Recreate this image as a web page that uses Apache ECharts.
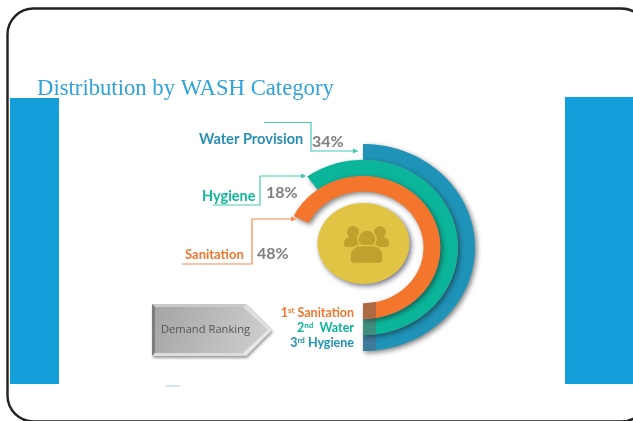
<!DOCTYPE html>
<html><head><meta charset="utf-8">
<style>html,body{margin:0;padding:0;background:#fff}#c{width:633px;height:421px}</style>
<script src="https://cdn.jsdelivr.net/npm/echarts@6/dist/echarts.min.js"></script>
</head><body><div id="c"></div>
<script>
// Data
const categories = ['Water Provision', 'Hygiene', 'Sanitation'];
const shares = [34, 18, 48];
const arcSweepDegrees = [180, 216, 244];
const rankOrdinals = ['1', '2', '3'];
const rankSuffixes = ['st', 'nd', 'rd'];
const rankNames = ['Sanitation', ' Water', 'Hygiene'];

const ringColors = ['#1f93b8', '#0bb59a', '#f3762c'];
const ringDark = ['#3f7a9b', '#3f8f80', '#ad6a42'];
const labelColors = ['#2a8fb5', '#12b89c', '#f3762c'];
const rankColors = ['#f3762c', '#0bb59a', '#1f93b8'];
const lineColors = ['#45c9b4', '#45c9b4', '#f58a4b'];
const ringEdges = [1, 0.847, 0.69, 0.54];

const chart = echarts.init(document.getElementById('c'), null, {renderer: 'canvas'});

// Arcs start at the bottom of the ring and run counter-clockwise over the right side.
function arcPoints(api, sweep, inner, outer) {
  const pts = [];
  const n = 90;
  for (let i = 0; i <= n; i++) {
    const a = (sweep * i / n) * Math.PI / 180;
    pts.push(api.coord([outer * Math.sin(a), -outer * Math.cos(a)]));
  }
  for (let i = n; i >= 0; i--) {
    const a = (sweep * i / n) * Math.PI / 180;
    pts.push(api.coord([inner * Math.sin(a), -inner * Math.cos(a)]));
  }
  return pts;
}
function tailPoints(api, inner, outer) {
  const dx = 0.116;
  const yAt = r => -Math.sqrt(r * r - dx * dx);
  return [api.coord([0, -outer]), api.coord([dx, yAt(outer)]), api.coord([dx, yAt(inner)]), api.coord([0, -inner])];
}

function text(x, y, str, size, color, weight, align, family) {
  return {type: 'text', x, y, z: 20, style: {
    text: str, fontSize: size, fill: color, fontWeight: weight || 'bold',
    fontFamily: family || 'Lato', align: align || 'left', verticalAlign: 'middle'}};
}
function connector(points, color) {
  const last = points[points.length - 1];
  return [
    {type: 'polyline', z: 15, shape: {points}, style: {stroke: color, lineWidth: 1.2, fill: null}},
    {type: 'polygon', z: 15, shape: {points: [[last[0] + 4.5, last[1]], [last[0] - 1, last[1] - 2.6], [last[0] - 1, last[1] + 2.6]]}, style: {fill: color}}
  ];
}
const labelPos = [[199, 139, 312, 142], [202, 196, 266, 193], [185, 255, 257, 254]];
const labelSize = [14.6, 14.5, 13];

const rankTexts = categories.map((_, i) => ({
  type: 'text', x: 354, y: 313 + i * 15, z: 20,
  style: {
    text: '{a|' + rankOrdinals[i] + '}{s|' + rankSuffixes[i] + '}{a| ' + rankNames[i] + '}',
    align: 'right', verticalAlign: 'middle',
    rich: {
      a: {fontFamily: 'Lato', fontWeight: 'bold', fontSize: 12.5, fill: rankColors[i], lineHeight: 15},
      s: {fontFamily: 'Lato', fontWeight: 'bold', fontSize: 8, fill: rankColors[i], padding: [0, 0, 5, 0]}
    }
  }
}));

const iconColor = '#bfa22e';
const yellow = '#e2c444';
const graphics = [
  // slide frame and side panels
  {type: 'rect', z: 1, shape: {x: 10, y: 98, width: 49, height: 286}, style: {fill: '#149fda'}},
  {type: 'rect', z: 1, shape: {x: 565, y: 97, width: 70, height: 287}, style: {fill: '#149fda'}},
  {type: 'rect', z: 2, shape: {x: 7.5, y: 8.5, width: 640, height: 413, r: 26}, style: {fill: null, stroke: '#222', lineWidth: 2.4}},
  {type: 'rect', z: 2, shape: {x: 166, y: 385.5, width: 14, height: 1}, style: {fill: '#a9c6de'}},
  // centre badge
  {type: 'ellipse', z: 10, shape: {cx: 363.5, cy: 243.5, rx: 46, ry: 40.5},
    style: {fill: yellow, shadowBlur: 5, shadowOffsetX: 2, shadowOffsetY: 2, shadowColor: 'rgba(40,40,70,.65)'}},
  {type: 'circle', z: 11, shape: {cx: 353, cy: 232, r: 6}, style: {fill: iconColor}},
  {type: 'circle', z: 11, shape: {cx: 380, cy: 232, r: 6}, style: {fill: iconColor}},
  {type: 'rect', z: 11, shape: {x: 344, y: 237, width: 17, height: 10, r: [6, 6, 3, 3]}, style: {fill: iconColor}},
  {type: 'rect', z: 11, shape: {x: 372, y: 237, width: 17, height: 10, r: [6, 6, 3, 3]}, style: {fill: iconColor}},
  {type: 'circle', z: 12, shape: {cx: 367, cy: 239, r: 9}, style: {fill: iconColor, stroke: yellow, lineWidth: 1.5}},
  {type: 'rect', z: 12, shape: {x: 350, y: 245.5, width: 33, height: 18, r: [10, 10, 4, 4]}, style: {fill: iconColor, stroke: yellow, lineWidth: 1.5}},
  // ranking arrow
  {type: 'polygon', z: 10, shape: {points: [[152, 304], [246, 304], [272, 330], [246, 356], [152, 356]]},
    style: {fill: new echarts.graphic.LinearGradient(0, 0, 1, 1, [{offset: 0, color: '#a3a3a3'}, {offset: 1, color: '#d2d2d2'}]),
      shadowBlur: 3, shadowOffsetX: 1, shadowOffsetY: 2, shadowColor: 'rgba(0,0,0,.4)'}},
  {type: 'polygon', z: 11, shape: {points: [[152, 304], [246, 304], [243, 307], [155, 307]]}, style: {fill: '#c9c9c9'}},
  {type: 'polygon', z: 11, shape: {points: [[152, 304], [155, 307], [155, 353], [152, 356]]}, style: {fill: '#7d7d7d'}},
  {type: 'polygon', z: 11, shape: {points: [[152, 356], [155, 353], [243, 353], [246, 356]]}, style: {fill: '#dddddd'}},
  {type: 'polygon', z: 11, shape: {points: [[246, 304], [272, 330], [268, 330], [243, 307]]}, style: {fill: '#dedede'}},
  {type: 'polygon', z: 11, shape: {points: [[246, 356], [272, 330], [268, 330], [243, 353]]}, style: {fill: '#e8e8e8'}},
  text(205.5, 330, 'Demand Ranking', 11.2, '#555', 'normal', 'center', 'Open Sans'),
  ...connector([[264, 122.5], [311, 122.5], [311, 151], [354, 151]], lineColors[0]),
  ...connector([[213, 205], [260, 205], [260, 176], [302, 176]], lineColors[1]),
  ...connector([[182, 264], [252, 264], [252, 219], [292, 219]], lineColors[2]),
  ...categories.map((c, i) => text(labelPos[i][0], labelPos[i][1], c, labelSize[i], labelColors[i])),
  ...shares.map((s, i) => text(labelPos[i][2], labelPos[i][3], s + '%', 16, '#7f7f7f')),
  ...rankTexts
];

chart.setOption({
  animation: false,
  backgroundColor: '#fff',
  title: {text: 'Distribution by WASH Category', left: 32, top: 72.5,
    textStyle: {fontFamily: 'Liberation Serif', fontWeight: 'normal', fontSize: 22.7, color: '#2fa3db'}},
  grid: {left: 251, width: 224, top: 144, height: 207},
  xAxis: {type: 'value', min: -1, max: 1, show: false},
  yAxis: {type: 'value', min: -1, max: 1, show: false},
  series: [{
    type: 'custom',
    clip: false,
    z: 5,
    data: arcSweepDegrees.map((s, i) => ({name: categories[i], value: [i, s]})),
    renderItem(params, api) {
      const i = api.value(0), sweep = api.value(1);
      const inner = ringEdges[i + 1], outer = ringEdges[i];
      return {type: 'group', children: [
        {type: 'polygon', shape: {points: arcPoints(api, sweep, inner, outer)},
          style: {fill: ringColors[i], shadowBlur: 5, shadowOffsetX: 2, shadowOffsetY: 2, shadowColor: 'rgba(30,30,30,.55)'}},
        {type: 'polygon', shape: {points: tailPoints(api, inner, outer)}, style: {fill: ringDark[i]}}
      ]};
    }
  }],
  graphic: {elements: graphics}
});
</script></body></html>
